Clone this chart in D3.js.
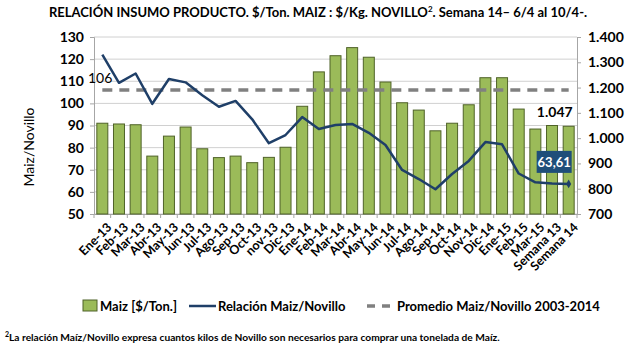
<!DOCTYPE html>
<html>
    <head>
        <title>relacion maiz novillo</title>
        <script src="https://cdn.jsdelivr.net/npm/d3@7"></script>
        <style>
            body { margin: 0; background: #fff; }
            text { font-family: Lato, "Liberation Sans", sans-serif; fill: #000; }
        </style>
    </head>
    <body>
        <svg class="chart"></svg>
        <script>
            // datos
            var meses = ["Ene-13","Feb-13","Mar-13","Abr-13","May-13","Jun-13","Jul-13","Ago-13","Sep-13","Oct-13","nov-13","Dic-13",
                         "Ene-14","Feb-14","Mar-14","Abr-14","May-14","Jun-14","Jul-14","Ago-14","Sep-14","Oct-14","Nov-14","Dic-14",
                         "Ene-15","Feb-15","Mar-15","Semana 13","Semana 14"];
            var maiz = [1059,1056,1053,929,1008,1044,958,923,929,903,924,964,
                        1126,1262,1326,1358,1320,1222,1140,1111,1029,1059,1132,1239,
                        1239,1115,1036,1050,1047];
            var relacion = [122,109.3,113.5,99.8,111,109.5,103.7,98.5,101.1,92.8,82,85.7,
                            93.8,88.4,90.2,90.7,86.7,81.2,69.9,65.8,61.2,68.1,74,82.5,
                            81.5,68.3,64.3,63.8,63.61];
            var promedio = 106;
            var ticksIzq = [50,60,70,80,90,100,110,120,130];
            var ticksDer = [700,800,900,1000,1100,1200,1300,1400];

            var svgWidth = 626, svgHeight = 350;
            var plotLeft = 94, plotRight = 577, plotTop = 37, plotBottom = 214;

            var svg = d3.select(".chart").attr("width", svgWidth).attr("height", svgHeight);

            var x = d3.scaleBand().domain(meses).range([plotLeft, plotRight]).paddingInner(0.34).paddingOuter(0.17);
            var yL = d3.scaleLinear().domain([50,130]).range([plotBottom, plotTop]);
            var yR = d3.scaleLinear().domain([700,1400]).range([plotBottom, plotTop]);
            var fmt = d3.formatLocale({decimal: ",", thousands: ".", grouping: [3], currency: ["$",""]});

            // titulo
            svg.append("text")
                .attr("x", 318).attr("y", 17)
                .attr("text-anchor", "middle")
                .style("font-weight", "bold").style("font-size", "13px")
                .html('RELACIÓN INSUMO PRODUCTO. $/Ton. MAIZ : $/Kg. NOVILLO<tspan dy="-5" font-size="8">2</tspan><tspan dy="5">. Semana 14– 6/4 al 10/4-.</tspan>');

            // grilla
            svg.append("g").selectAll("line").data(ticksIzq).enter().append("line")
                .attr("x1", plotLeft).attr("x2", plotRight)
                .attr("y1", d => yL(d)).attr("y2", d => yL(d))
                .attr("stroke", "#d0d0d0").attr("stroke-width", 1);

            // ejes
            var axL = svg.append("g").attr("transform", "translate(" + plotLeft + ",0)")
                .call(d3.axisLeft(yL).tickValues(ticksIzq).tickSize(4).tickPadding(6));
            var axR = svg.append("g").attr("transform", "translate(" + plotRight + ",0)")
                .call(d3.axisRight(yR).tickValues(ticksDer).tickSize(4).tickPadding(7).tickFormat(fmt.format(",")));
            [axL, axR].forEach(function (a) {
                a.select(".domain").attr("stroke", "#a6a6a6");
                a.selectAll(".tick line").attr("stroke", "#a6a6a6");
                a.selectAll("text").style("font-size", "14px").style("font-weight", "bold")
                    .style("font-family", "Lato, sans-serif").attr("fill", "#000");
            });

            var axX = svg.append("g").attr("transform", "translate(0," + plotBottom + ")")
                .call(d3.axisBottom(x).tickSize(0).tickPadding(0));
            axX.select(".domain").attr("stroke", "#a6a6a6");
            axX.selectAll(".tick text")
                .attr("text-anchor", "end")
                .attr("transform", "translate(7,11) rotate(-45)")
                .attr("dy", "0.35em")
                .style("font-size", "12.5px").style("font-weight", "bold")
                .style("font-family", "Lato, sans-serif").attr("fill", "#000");
            // marcas entre categorias
            svg.append("g").selectAll("line").data(meses.concat([null])).enter().append("line")
                .attr("x1", (d, i) => plotLeft + i * x.step()).attr("x2", (d, i) => plotLeft + i * x.step())
                .attr("y1", plotBottom).attr("y2", plotBottom + 4)
                .attr("stroke", "#a6a6a6");

            // barras
            svg.append("g").selectAll("rect").data(maiz).enter().append("rect")
                .attr("x", (d, i) => x(meses[i]))
                .attr("width", x.bandwidth())
                .attr("y", d => yR(d))
                .attr("height", d => plotBottom - yR(d))
                .attr("fill", "#9bbb59").attr("stroke", "#4f6228").attr("stroke-width", 1);

            // promedio
            var cx = function (d, i) { return x(meses[i]) + x.bandwidth() / 2; };
            svg.append("path")
                .datum(meses.map(() => promedio))
                .attr("d", d3.line().x(cx).y(d => yL(d)))
                .attr("fill", "none").attr("stroke", "#808080").attr("stroke-width", 3.5)
                .attr("stroke-dasharray", "10,7");

            // relacion
            svg.append("path")
                .datum(relacion)
                .attr("d", d3.line().x(cx).y(d => yL(d)))
                .attr("fill", "none").attr("stroke", "#1f3f68").attr("stroke-width", 2.5)
                .attr("stroke-linejoin", "round");
            var n = relacion.length - 1;
            svg.append("path")
                .attr("d", d3.symbol().type(d3.symbolDiamond).size(22))
                .attr("transform", "translate(" + cx(null, n) + "," + yL(relacion[n]) + ")")
                .attr("fill", "#1f3f68");

            // etiquetas
            svg.append("text").attr("x", 88).attr("y", yL(promedio) - 7)
                .style("font-size", "14px").text(promedio);
            svg.append("text").attr("x", cx(null, n) + 4).attr("y", yR(maiz[n]) - 9)
                .attr("text-anchor", "end")
                .style("font-size", "14px").style("font-weight", "bold")
                .text(fmt.format(",")(maiz[n]));
            var bx = cx(null, n) + 3, by = yL(relacion[n]) - 12;
            svg.append("rect").attr("x", bx - 35).attr("y", by - 21).attr("width", 35).attr("height", 22)
                .attr("fill", "#1f4e79");
            svg.append("text").attr("x", bx - 17.5).attr("y", by - 5)
                .attr("text-anchor", "middle").style("fill", "#fff")
                .style("font-size", "13px").style("font-weight", "bold")
                .text(fmt.format(".2f")(relacion[n]));

            // titulo eje
            svg.append("text")
                .attr("transform", "translate(34,147) rotate(-90)")
                .attr("text-anchor", "middle")
                .style("font-size", "14px").text("Maiz/Novillo");

            // leyenda
            var ly = 306;
            var leg = svg.append("g");
            leg.append("rect").attr("x", 83).attr("y", ly - 6).attr("width", 14).attr("height", 11)
                .attr("fill", "#9bbb59").attr("stroke", "#4f6228");
            leg.append("text").attr("x", 100).attr("y", ly + 4.5).style("font-size", "13px").style("font-weight", "bold").text("Maiz [$/Ton.]");
            leg.append("line").attr("x1", 189).attr("x2", 216).attr("y1", ly).attr("y2", ly)
                .attr("stroke", "#1f3f68").attr("stroke-width", 2.5);
            leg.append("text").attr("x", 218).attr("y", ly + 4.5).style("font-size", "13px").style("font-weight", "bold").text("Relación Maiz/Novillo");
            leg.append("line").attr("x1", 367).attr("x2", 395).attr("y1", ly).attr("y2", ly)
                .attr("stroke", "#808080").attr("stroke-width", 3.5).attr("stroke-dasharray", "8,7");
            leg.append("text").attr("x", 397).attr("y", ly + 4.5).style("font-size", "13px").style("font-weight", "bold").text("Promedio Maiz/Novillo 2003-2014");

            // nota
            svg.append("text").attr("x", 5).attr("y", 341)
                .style("font-size", "10.2px").style("font-weight", "bold")
                .html('<tspan dy="-4" font-size="7">2</tspan><tspan dy="4">La relación Maíz/Novillo expresa cuantos kilos de Novillo son necesarios para comprar una tonelada de Maíz.</tspan>');
        </script>
    </body>
</html>
